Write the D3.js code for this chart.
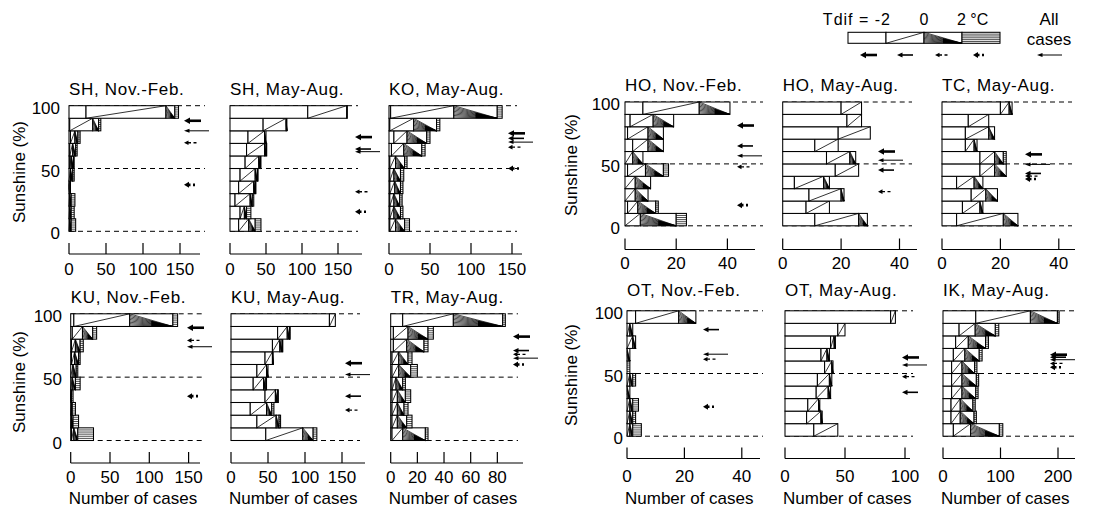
<!DOCTYPE html>
<html>
<head>
<meta charset="utf-8">
<script src="https://cdn.jsdelivr.net/npm/d3@7"></script>
<style>
  body { margin: 0; background: #fff; }
  text { font-family: Arial, "Liberation Sans", Helvetica, sans-serif; fill: #000; }
</style>
</head>
<body>
<script>
// sunshine bins (lower edge, %), bars listed bottom (0-10) to top (90-100)
var sunshineBins = [0, 10, 20, 30, 40, 50, 60, 70, 80, 90];
var tdifClasses = ["< -2", "-2 to 0", "0 to 2", "> 2"];
var legendTicks = ["Tdif = -2", "0", "2 \u00b0C"];

var panelTitles = ["SH, Nov.-Feb.", "SH, May-Aug.", "KO, May-Aug.",
  "KU, Nov.-Feb.", "KU, May-Aug.", "TR, May-Aug.",
  "HO, Nov.-Feb.", "HO, May-Aug.", "TC, May-Aug.",
  "OT, Nov.-Feb.", "OT, May-Aug.", "IK, May-Aug."];

var xTicks = [[0, 50, 100, 150], [0, 50, 100, 150], [0, 50, 100, 150],
  [0, 50, 100, 150], [0, 50, 100, 150], [0, 20, 40, 60, 80],
  [0, 20, 40], [0, 20, 40], [0, 20, 40],
  [0, 20, 40], [0, 50, 100], [0, 100, 200]];
var yTicks = [0, 50, 100];

// number of cases per bin, split by Tdif class [<-2, -2..0, 0..2, >2]
var shNov = [[0,1,2,6],[0,1,2,4],[0,1,2,5],[0,0,1,1],[0,2,3,2],[1,2,3,1],[1,4,4,2],[2,6,4,3],[1,31,8,3],[23,108,12,5]];
var shMay = [[12,14,9,8],[14,6,3,6],[7,21,3,2],[12,21,2,1],[14,21,3,1],[21,19,2,1],[23,25,2,1],[25,23,2,0],[46,32,1,0],[108,54,0,1]];
var koMay = [[1,7,11,6],[1,5,8,3],[1,5,7,3],[1,6,7,3],[1,5,8,4],[1,7,11,3],[3,15,22,4],[6,16,24,4],[1,29,28,4],[2,77,53,6]];
var kuNov = [[1,3,5,20],[0,1,2,7],[0,1,1,4],[0,0,1,2],[0,2,4,6],[0,3,4,2],[1,4,5,2],[1,5,6,4],[2,13,13,5],[4,71,55,6]];
var kuMay = [[47,50,14,5],[35,26,4,2],[26,22,7,3],[46,14,3,1],[30,14,3,1],[35,13,2,0],[46,10,1,0],[56,10,3,1],[63,13,3,1],[133,8,0,0]];
var trMay = [[1,8,17,2],[1,4,7,4],[1,4,5,3],[1,4,6,4],[1,3,5,2],[1,5,9,5],[1,5,7,3],[2,10,13,3],[2,11,15,4],[9,38,37,2]];
var hoNov = [[0,6,14,4],[1,4,7,1],[0,4,5,0],[0,4,6,0],[1,7,7,2],[0,3,4,0],[3,6,6,0],[1,8,6,0],[2,9,8,0],[7,22,12,0]];
var hoMay = [[11,15,3,0],[8,8,0,0],[9,11,1,0],[4,10,2,0],[18,8,0,0],[15,8,2,0],[11,8,0,0],[19,11,0,0],[22,5,0,0],[20,7,0,0]];
var tcMay = [[5,16,5,0],[7,6,1,0],[10,5,4,0],[5,6,3,0],[13,5,4,0],[13,5,3,1],[8,3,1,0],[8,8,2,0],[9,7,0,0],[20,3,1,0]];
var otNov = [[0,1,1,3],[0,1,1,1],[0,1,1,2],[0,0,1,0],[0,1,1,1],[0,0,0,1],[0,0,1,0],[0,2,1,0],[0,1,1,0],[3,15,6,0]];
var otMay = [[24,20,0,0],[18,12,1,0],[19,9,1,0],[26,10,2,0],[27,10,2,0],[33,6,1,0],[30,5,2,0],[38,3,1,0],[44,6,0,0],[88,4,0,0]];
var ikMay = [[18,30,50,6],[14,16,24,4],[14,16,22,4],[15,18,24,4],[15,18,25,4],[15,18,22,4],[18,20,25,5],[22,22,30,5],[28,28,35,6],[57,95,47,3]];
var panelCounts = [shNov, shMay, koMay, kuNov, kuMay, trMay, hoNov, hoMay, tcMay, otNov, otMay, ikMay];

// mean sunshine (%) marked by arrows: [<-2, -2..0, 0..2, >2, all cases]
var meanArrows = [
  [88, null, 70.5, 37, 80],
  [75, 65.5, 31.5, 15.6, 63.4],
  [78, 74, 67, 50, 71],
  [89, null, 79, 35, 74],
  [61, 35, 24, null, 52],
  [82, 71, 68, 60, 65],
  [81, 64.5, 47.6, 16.7, 56.5],
  [60, 45, 27.6, null, 53],
  [57.7, 42.3, 40.2, 37.8, 49.6],
  [null, 85, 61.4, 23.5, 65.4],
  [62.8, 35, 47.5, null, 56.8],
  [65, 63, 58, 55, 61]
];

// ---- layout ----
var rows = {
  lt: {y0: 231.3, y100: 105.7, axisY: 254, tickY: 274.5, titleY: 95, sunX: 25, sunY: 172},
  lb: {y0: 440.5, y100: 313.8, axisY: 463, tickY: 483.3, titleY: 303.3, sunX: 25, sunY: 382, nocY: 504},
  rt: {y0: 225.8, y100: 102, axisY: 249.5, tickY: 269, titleY: 90.5, sunX: 577, sunY: 165},
  rb: {y0: 436.2, y100: 310.8, axisY: 458.5, tickY: 481.5, titleY: 295.5, sunX: 577, sunY: 375, nocY: 503.5}
};
var layout = [
  {row: "lt", x0: 69, x1: 200, ppu: 0.74, dashEnd: 205, arrowX: 184, yLabX: 60},
  {row: "lt", x0: 230, x1: 362, ppu: 0.72, dashEnd: 358, arrowX: 355},
  {row: "lt", x0: 389, x1: 522, ppu: 0.82, dashEnd: 517, arrowX: 508},
  {row: "lb", x0: 70.7, x1: 200, ppu: 0.786, dashEnd: 205, arrowX: 187, yLabX: 62},
  {row: "lb", x0: 231, x1: 365, ppu: 0.74, dashEnd: 360, arrowX: 345},
  {row: "lb", x0: 390.7, x1: 523, ppu: 1.333, dashEnd: 518, arrowX: 513},
  {row: "rt", x0: 625, x1: 755, ppu: 2.56, dashEnd: 763, arrowX: 737, yLabX: 620},
  {row: "rt", x0: 782.7, x1: 917, ppu: 2.92, dashEnd: 912, arrowX: 878},
  {row: "rt", x0: 942, x1: 1075, ppu: 2.92, dashEnd: 1072, arrowX: 1025},
  {row: "rb", x0: 627, x1: 760, ppu: 2.87, dashEnd: 763, arrowX: 703, yLabX: 623},
  {row: "rb", x0: 785, x1: 910, ppu: 1.2, dashEnd: 913, arrowX: 902},
  {row: "rb", x0: 943, x1: 1075, ppu: 0.575, dashEnd: 1075, arrowX: 1050}
];
var arrowStyles = [
  {w: 2.6, dash: null, len: 17, hl: 6, hw: 3.2},
  {w: 1.6, dash: null, len: 16, hl: 5.5, hw: 2.6},
  {w: 1.3, dash: "3,2.5", len: 15, hl: 4.5, hw: 2.3},
  {w: 2.6, dash: "2,2.5", len: 12, hl: 5, hw: 3},
  {w: 1, dash: null, len: 25, hl: 5.5, hw: 2}
];

var svg = d3.select("body").append("svg")
  .attr("width", 1093).attr("height", 507);

function drawArrow(g, x, y, st) {
  g.append("line")
    .attr("x1", x + st.hl - 0.5).attr("x2", x + st.len)
    .attr("y1", y).attr("y2", y)
    .attr("stroke", "#000").attr("stroke-width", st.w)
    .attr("stroke-dasharray", st.dash);
  g.append("path")
    .attr("d", "M" + x + "," + y + "L" + (x + st.hl) + "," + (y - st.hw) + "L" + (x + st.hl) + "," + (y + st.hw) + "Z")
    .attr("fill", "#000");
}

// one stacked segment, pattern depends on Tdif class
function drawSeg(g, xa, xb, yT, yB, s) {
  var w = xb - xa, h = yB - yT, k;
  g.append("rect")
    .attr("x", xa).attr("y", yT).attr("width", w).attr("height", h)
    .attr("fill", "#fff");
  if (s === 1) {
    g.append("line").attr("x1", xa).attr("y1", yB).attr("x2", xb).attr("y2", yT)
      .attr("stroke", "#000").attr("stroke-width", 0.8);
  } else if (s === 2) {
    // fan of lines converging to the lower right corner, dark wedge at the tip
    g.append("path")
      .attr("d", "M" + (xa + 0.5 * w) + "," + (yT + 0.55 * h) + "L" + xb + "," + yB + "L" + (xa + 0.5 * w) + "," + yB + "Z")
      .attr("fill", "#000");
    for (k = 0; k < 9; k++) {
      g.append("line").attr("x1", xa).attr("y1", yT + k * h / 9).attr("x2", xb).attr("y2", yB)
        .attr("stroke", "#000").attr("stroke-width", 0.7);
    }
  } else if (s === 3) {
    for (k = 1; k < 6; k++) {
      g.append("line").attr("x1", xa).attr("y1", yT + k * h / 6).attr("x2", xb).attr("y2", yT + k * h / 6)
        .attr("stroke", "#000").attr("stroke-width", 0.7);
    }
  }
  g.append("rect")
    .attr("x", xa).attr("y", yT).attr("width", w).attr("height", h)
    .attr("fill", "none").attr("stroke", "#000").attr("stroke-width", 1.05);
}

layout.forEach(function(p, i) {
  var r = rows[p.row];
  var g = svg.append("g");
  var x = d3.scaleLinear().domain([0, (p.x1 - p.x0) / p.ppu]).range([p.x0, p.x1]);
  var y = d3.scaleLinear().domain([0, 100]).range([r.y0, r.y100]);

  // dashed reference lines (bars drawn on top)
  g.selectAll(".ref").data(yTicks).enter().append("line")
    .attr("x1", p.x0).attr("x2", p.dashEnd)
    .attr("y1", function(d) { return y(d); }).attr("y2", function(d) { return y(d); })
    .attr("stroke", "#000").attr("stroke-width", 1).attr("stroke-dasharray", "5,4");

  // stacked bars
  panelCounts[i].forEach(function(d, b) {
    var yT = y(sunshineBins[b] + 10), yB = y(sunshineBins[b]);
    var cum = 0;
    d.forEach(function(v, s) {
      if (v > 0) drawSeg(g, x(cum), x(cum + v), yT, yB, s);
      cum += v;
    });
  });

  // x axis: baseline with upward ticks
  g.append("line").attr("x1", p.x0).attr("x2", p.x1)
    .attr("y1", r.axisY).attr("y2", r.axisY)
    .attr("stroke", "#000").attr("stroke-width", 1.2);
  g.selectAll(".tk").data(xTicks[i]).enter().append("line")
    .attr("x1", function(d) { return x(d); }).attr("x2", function(d) { return x(d); })
    .attr("y1", r.axisY).attr("y2", r.axisY - 11)
    .attr("stroke", "#000").attr("stroke-width", 1.2);
  g.selectAll(".tl").data(xTicks[i]).enter().append("text")
    .attr("x", function(d) { return x(d); }).attr("y", r.tickY)
    .attr("text-anchor", "middle").style("font-size", "17px")
    .text(function(d) { return d; });

  g.append("text").attr("x", p.x0).attr("y", r.titleY)
    .style("font-size", "17px").style("letter-spacing", "0.7px")
    .text(panelTitles[i]);

  if (r.nocY) {
    g.append("text").attr("x", p.x0 - 2).attr("y", r.nocY)
      .style("font-size", "17px").text("Number of cases");
  }

  if (p.yLabX) {
    g.selectAll(".yl").data(yTicks).enter().append("text")
      .attr("x", p.yLabX).attr("y", function(d) { return y(d) + 8; })
      .attr("text-anchor", "end").style("font-size", "17px")
      .text(function(d) { return d; });
    g.append("text")
      .attr("transform", "translate(" + r.sunX + "," + r.sunY + ") rotate(-90)")
      .attr("text-anchor", "middle").style("font-size", "17px")
      .text("Sunshine (%)");
  }

  // mean arrows
  meanArrows[i].forEach(function(m, s) {
    if (m === null) return;
    drawArrow(g, p.arrowX, y(m), arrowStyles[s]);
  });
});

// ---- legend ----
var lg = svg.append("g");
var lx = d3.scaleLinear().domain([0, 4]).range([848, 1000]);
tdifClasses.forEach(function(c, s) {
  drawSeg(lg, lx(s), lx(s + 1), 32.3, 43.3, s);
});
lg.append("text").attr("x", 891).attr("y", 25).attr("text-anchor", "end")
  .style("font-size", "16px").style("letter-spacing", "1px").text(legendTicks[0]);
lg.append("text").attr("x", lx(2)).attr("y", 25).attr("text-anchor", "middle")
  .style("font-size", "16px").text(legendTicks[1]);
lg.append("text").attr("x", lx(3) - 5).attr("y", 25)
  .style("font-size", "16px").text(legendTicks[2]);
lg.append("text").attr("x", 1049).attr("y", 25).attr("text-anchor", "middle")
  .style("font-size", "17px").text("All");
lg.append("text").attr("x", 1049).attr("y", 44.5).attr("text-anchor", "middle")
  .style("font-size", "17px").text("cases");
var legendArrowX = [860, 897, 935, 973, 1037];
arrowStyles.forEach(function(st, s) {
  drawArrow(lg, legendArrowX[s], 55, st);
});
</script>
</body>
</html>
